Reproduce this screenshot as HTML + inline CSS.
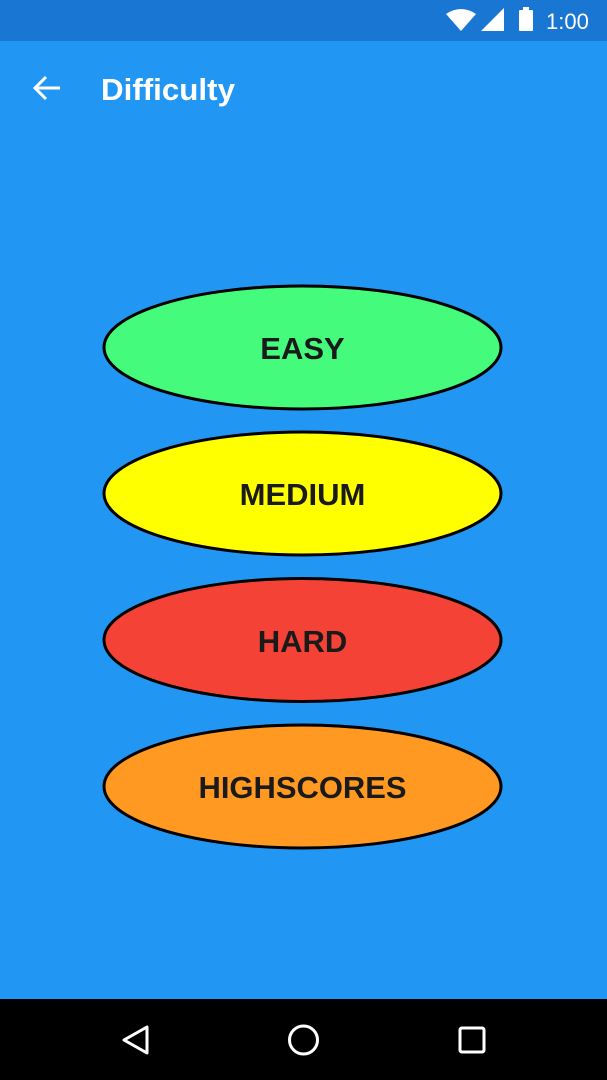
<!DOCTYPE html>
<html><head><style>
html,body{margin:0;padding:0;}
body{width:607px;height:1080px;background:#2196F3;position:relative;overflow:hidden;font-family:"Liberation Sans",sans-serif;}
</style></head><body>
<svg width="607" height="1080" style="position:absolute;left:0;top:0">
<rect x="0" y="0" width="607" height="41" fill="#1976D2"/>
<path d="M446 14 Q461 4 476 14 L461 31 Z" fill="#fff"/>
<path d="M481 31 L504 31 L504 8 Z" fill="#fff"/>
<rect x="519" y="10" width="14" height="21" rx="1" fill="#fff"/>
<rect x="523" y="7" width="6" height="4" fill="#fff"/>
<text x="546" y="29" font-size="22" fill="#fff" font-family="Liberation Sans">1:00</text>
<path d="M36 88 L60 88 M46 77 L35 88 L46 99" stroke="#fff" stroke-width="3" fill="none"/>
<text x="101" y="100" font-size="31" font-weight="bold" fill="#fff" font-family="Liberation Sans" textLength="134" lengthAdjust="spacingAndGlyphs">Difficulty</text>
<g stroke="#000" stroke-width="3" font-family="Liberation Sans" font-weight="bold" font-size="31" text-anchor="middle">
<ellipse cx="302.5" cy="347.5" rx="198.5" ry="61.5" fill="#44FB7B"/>
<ellipse cx="302.5" cy="493.5" rx="198.5" ry="61.5" fill="#FFFF00"/>
<ellipse cx="302.5" cy="640" rx="198.5" ry="61.5" fill="#F44336"/>
<ellipse cx="302.5" cy="786.5" rx="198.5" ry="61.5" fill="#FF9922"/>
<g stroke="none" fill="#1a1a1a">
<text x="302.5" y="359">EASY</text>
<text x="302.5" y="505">MEDIUM</text>
<text x="302.5" y="652">HARD</text>
<text x="302.5" y="798" textLength="208" lengthAdjust="spacingAndGlyphs">HIGHSCORES</text>
</g></g>
<rect x="0" y="999" width="607" height="81" fill="#000"/>
<path d="M147 1027 L147 1053 L124 1040 Z" stroke="#fff" stroke-width="3" fill="none" stroke-linejoin="round"/>
<circle cx="303.5" cy="1040" r="14" stroke="#fff" stroke-width="3" fill="none"/>
<rect x="460" y="1028" width="24" height="24" rx="2" stroke="#fff" stroke-width="3" fill="none"/>
</svg>
</body></html>
